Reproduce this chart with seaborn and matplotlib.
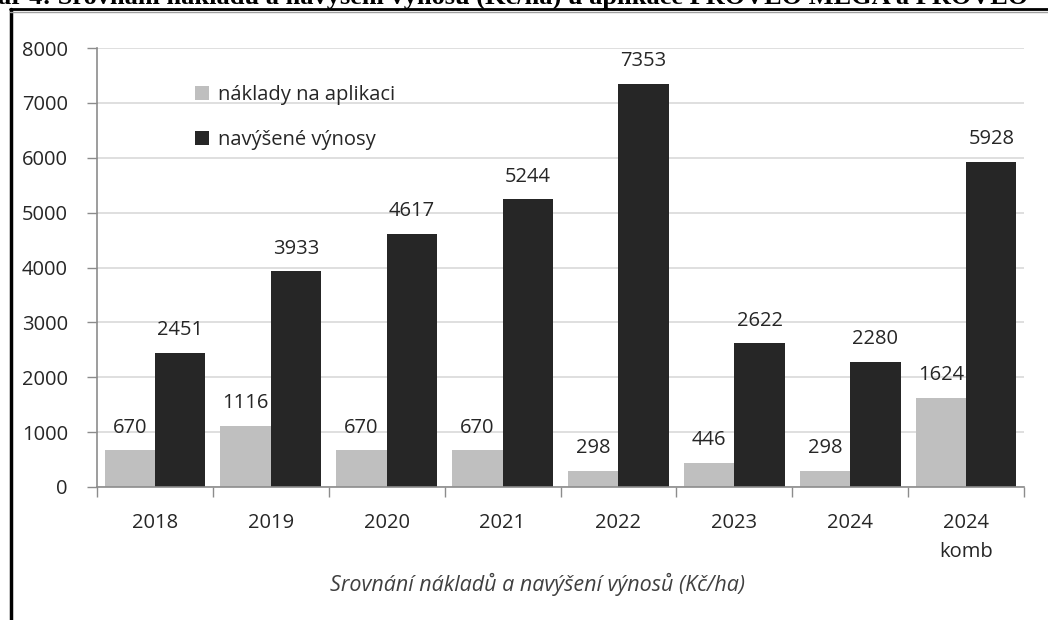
import matplotlib
matplotlib.use("Agg")
import matplotlib.pyplot as plt
import seaborn as sns
import pandas as pd
from matplotlib.lines import Line2D
from matplotlib.ticker import FixedLocator

categories = ["2018", "2019", "2020", "2021", "2022", "2023", "2024", "2024\nkomb"]
naklady = [670, 1116, 670, 670, 298, 446, 298, 1624]
vynosy = [2451, 3933, 4617, 5244, 7353, 2622, 2280, 5928]
series_names = ["náklady na aplikaci", "navýšené výnosy"]
colors = ["#BFBFBF", "#262626"]
title_text = "ar 4: Srovnání nákladů a navýšení výnosu (Kč/ha) u aplikace PROVEO MEGA a PROVEO"
xlabel_text = "Srovnání nákladů a navýšení výnosů (Kč/ha)"

df = pd.DataFrame({
    "kat": categories * 2,
    "serie": [series_names[0]] * len(categories) + [series_names[1]] * len(categories),
    "hodnota": naklady + vynosy,
})

sns.set_theme(style="white")
plt.rcParams["font.family"] = ["Open Sans", "DejaVu Sans"]

fig = plt.figure(figsize=(10.48, 6.2), dpi=100)
ax = fig.add_axes([97 / 1048, 1 - 487 / 620, (1024 - 97) / 1048, (487 - 48) / 620])

sns.barplot(data=df, x="kat", y="hodnota", hue="serie", order=categories,
            hue_order=series_names, palette=colors, width=0.87, saturation=1,
            ax=ax, edgecolor="none", linewidth=0)

for cont in ax.containers:
    ax.bar_label(cont, labels=[f"{int(v)}" for v in cont.datavalues], padding=9,
                 fontsize=14.5, color="#262626")

ax.set_ylim(0, 8000)
ax.set_xlim(-0.5, len(categories) - 0.5)
ax.set_yticks(range(0, 8001, 1000))
ax.yaxis.grid(True, color="#D9D9D9", linewidth=1.2)
ax.set_axisbelow(True)
ax.tick_params(axis="y", labelsize=14.5, colors="#262626", length=7, width=1,
               color="#8C8C8C", direction="out", left=True, pad=14)
ax.tick_params(axis="x", which="major", labelsize=14.5, labelcolor="#262626", length=0, pad=19)
for lab in ax.get_xticklabels():
    lab.set_linespacing(1.55)
ax.xaxis.set_minor_locator(FixedLocator([i - 0.5 for i in range(len(categories) + 1)]))
ax.tick_params(axis="x", which="minor", length=7, width=1, color="#8C8C8C", direction="out", bottom=True)
for s in ["top", "right"]:
    ax.spines[s].set_visible(False)
for s in ["left", "bottom"]:
    ax.spines[s].set_color("#8C8C8C")
    ax.spines[s].set_linewidth(1.2)
ax.set_xlabel("")
ax.set_ylabel("")

leg = ax.legend(loc="upper left", bbox_to_anchor=(0.106, 0.915), frameon=False, fontsize=14.5,
                handlelength=0.7, handleheight=0.7, handletextpad=0.45, labelspacing=1.25,
                borderpad=0, borderaxespad=0)
for t in leg.get_texts():
    t.set_color("#262626")

fig.text(538 / 1048, 1 - 584 / 620, xlabel_text, ha="center", va="center",
         fontsize=15.5, style="italic", color="#404040")

# page frame and cut title
fig.add_artist(Line2D([11 / 1048, 11 / 1048], [0, 1 - 9 / 620], transform=fig.transFigure,
                      color="black", linewidth=2.5))
fig.add_artist(Line2D([10 / 1048, 1], [1 - 9 / 620, 1 - 9 / 620], transform=fig.transFigure,
                      color="black", linewidth=2))
fig.add_artist(Line2D([10 / 1048, 1], [1 - 11.5 / 620, 1 - 11.5 / 620], transform=fig.transFigure,
                      color="#A0A0A0", linewidth=1))
fig.text(-2 / 1048, 1 - 4 / 620, title_text, ha="left", va="baseline", fontsize=19,
         fontweight="bold", family=["Liberation Serif", "DejaVu Serif"], color="black")

fig.savefig("out.png", dpi=100)
